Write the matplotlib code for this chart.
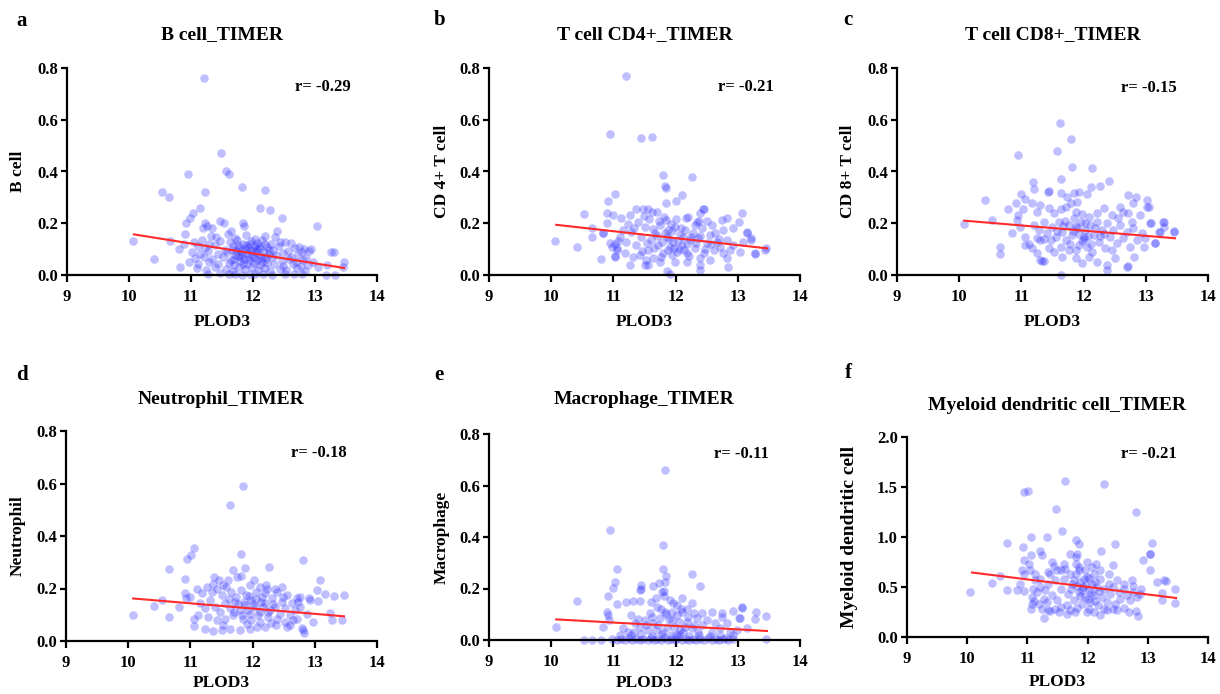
import numpy as np
import matplotlib

matplotlib.use("Agg")
import matplotlib.pyplot as plt

# ---- data (x = PLOD3 expression, y = infiltration score) ----
B_CELL = [
    (11.21, 0.76), (11.49, 0.47), (11.57, 0.40), (11.62, 0.39), (10.95, 0.39), (10.53, 0.32), (10.65, 0.30),
    (11.23, 0.32), (11.83, 0.34), (12.20, 0.33), (12.11, 0.26), (12.27, 0.25), (11.15, 0.26), (11.04, 0.24),
    (10.99, 0.22), (10.92, 0.20), (12.47, 0.22), (13.04, 0.19), (11.22, 0.20), (11.46, 0.21), (11.53, 0.20),
    (11.84, 0.20), (11.86, 0.19), (11.34, 0.18), (11.26, 0.19), (11.19, 0.18), (11.65, 0.17), (12.38, 0.17),
    (10.07, 0.13), (10.41, 0.06), (10.66, 0.13), (10.83, 0.03), (10.81, 0.10), (10.91, 0.16), (10.88, 0.12),
    (13.47, 0.05), (13.45, 0.03), (13.26, 0.09), (13.31, 0.09), (12.93, 0.10), (13.17, 0.00), (13.32, 0.00),
    (13.20, 0.04), (13.05, 0.03),
    (11.32, 0.152), (11.41, 0.147), (11.60, 0.158), (11.71, 0.143), (11.89, 0.155), (12.04, 0.139), (12.19, 0.151),
    (12.36, 0.146), (12.52, 0.128), (11.05, 0.128), (11.17, 0.134), (11.29, 0.121), (11.47, 0.131), (11.63, 0.126),
    (11.74, 0.136), (11.84, 0.119), (11.96, 0.131), (12.07, 0.124), (12.15, 0.137), (12.29, 0.118), (12.44, 0.129),
    (12.61, 0.122), (12.74, 0.108), (12.83, 0.101), (11.11, 0.112), (11.22, 0.104), (11.38, 0.115), (11.55, 0.098),
    (11.68, 0.111), (11.78, 0.103), (11.88, 0.117), (11.97, 0.096), (12.03, 0.113), (12.12, 0.104), (12.23, 0.109),
    (12.33, 0.097), (12.42, 0.112), (12.56, 0.094), (12.67, 0.103), (12.79, 0.088), (12.91, 0.092), (11.01, 0.088),
    (11.14, 0.083), (11.27, 0.094), (11.44, 0.081), (11.58, 0.089), (11.71, 0.078), (11.81, 0.092), (11.91, 0.084),
    (12.00, 0.094), (12.09, 0.079), (12.17, 0.088), (12.26, 0.083), (12.37, 0.076), (12.49, 0.086), (12.62, 0.071),
    (12.72, 0.079), (12.86, 0.066), (11.06, 0.064), (11.21, 0.071), (11.34, 0.062), (11.51, 0.068), (11.64, 0.058),
    (11.76, 0.072), (11.86, 0.061), (11.94, 0.069), (12.06, 0.057), (12.13, 0.066), (12.21, 0.061), (12.31, 0.068),
    (12.46, 0.054), (12.58, 0.063), (12.69, 0.052), (12.81, 0.058), (12.96, 0.049), (10.96, 0.052), (11.12, 0.044),
    (11.29, 0.051), (11.43, 0.042), (11.61, 0.047), (11.69, 0.039), (11.79, 0.053), (11.90, 0.044), (12.01, 0.048),
    (12.11, 0.038), (12.23, 0.046), (12.34, 0.041), (12.48, 0.036), (12.64, 0.043), (12.77, 0.034), (12.89, 0.039),
    (11.09, 0.027), (11.24, 0.021), (11.39, 0.031), (11.56, 0.024), (11.67, 0.017), (11.77, 0.029), (11.87, 0.022),
    (11.99, 0.031), (12.08, 0.019), (12.19, 0.027), (12.27, 0.014), (12.43, 0.024), (12.54, 0.018), (12.71, 0.026),
    (12.84, 0.015), (11.28, 0.003), (11.47, 0.006), (11.62, 0.002), (11.71, 0.004), (11.83, 0.001), (11.95, 0.005),
    (12.04, 0.002), (12.16, 0.004), (12.31, 0.001), (12.51, 0.003), (12.66, 0.002), (12.79, 0.004),
    (11.66, 0.098), (11.73, 0.091), (11.83, 0.083), (11.92, 0.107), (11.98, 0.076), (12.05, 0.087), (12.10, 0.113),
    (12.18, 0.071), (12.25, 0.096), (11.80, 0.068), (11.93, 0.058), (12.02, 0.066), (12.14, 0.052), (11.87, 0.102),
    (11.76, 0.115), (12.20, 0.121), (11.95, 0.121), (12.07, 0.101), (11.70, 0.063), (11.84, 0.044),
]

CD4_T = [
    (11.21, 0.770), (10.95, 0.546), (11.45, 0.529), (11.62, 0.534), (11.79, 0.387), (12.27, 0.380), (11.83, 0.344),
    (11.84, 0.338), (11.02, 0.313), (12.10, 0.308), (12.00, 0.286), (10.92, 0.285), (11.85, 0.277), (10.53, 0.235),
    (13.07, 0.239), (12.46, 0.256), (10.06, 0.131), (10.41, 0.110), (10.65, 0.181), (10.65, 0.148), (10.80, 0.063),
    (13.46, 0.104), (13.44, 0.095), (13.28, 0.082), (13.22, 0.143), (13.15, 0.166), (13.02, 0.203), (12.92, 0.181),
    (12.85, 0.031), (12.40, 0.040), (12.40, 0.018), (11.86, 0.014), (11.91, 0.004), (11.27, 0.037), (11.51, 0.037),
    (11.56, 0.037), (11.02, 0.068), (11.06, 0.104), (10.97, 0.110), (10.84, 0.162),
    (10.89, 0.238), (11.37, 0.254), (11.48, 0.254), (11.55, 0.254), (11.70, 0.245), (11.27, 0.232), (11.13, 0.219),
    (11.00, 0.232), (10.90, 0.200), (12.44, 0.254), (12.39, 0.238), (12.20, 0.225), (12.34, 0.206), (12.50, 0.210),
    (12.58, 0.193), (12.74, 0.213), (12.82, 0.219), (12.77, 0.174), (10.83, 0.161), (11.03, 0.073), (11.05, 0.097),
    (10.94, 0.122), (11.11, 0.148), (11.21, 0.129), (11.29, 0.167), (11.37, 0.116), (11.45, 0.148), (11.51, 0.187),
    (11.56, 0.097), (11.61, 0.135), (11.67, 0.161), (11.72, 0.116), (11.75, 0.193), (11.80, 0.084), (11.86, 0.148),
    (11.88, 0.174), (11.91, 0.110), (11.96, 0.129), (11.99, 0.187), (12.02, 0.090), (12.07, 0.155), (12.10, 0.116),
    (12.15, 0.174), (12.18, 0.084), (12.23, 0.135), (12.28, 0.161), (12.31, 0.103), (12.36, 0.142), (12.42, 0.180),
    (12.45, 0.084), (12.50, 0.122), (12.55, 0.155), (12.61, 0.097), (12.66, 0.129), (12.71, 0.110), (12.77, 0.084),
    (12.82, 0.135), (12.87, 0.097), (12.93, 0.116), (11.19, 0.084), (11.32, 0.071), (11.43, 0.077), (11.53, 0.058),
    (11.64, 0.064), (11.75, 0.051), (11.99, 0.051), (12.18, 0.051), (12.39, 0.064), (12.55, 0.058), (12.82, 0.064),
    (13.03, 0.090), (13.14, 0.161), (13.22, 0.135), (13.28, 0.084), (13.09, 0.129),
    (11.64, 0.178), (11.70, 0.152), (11.78, 0.128), (11.83, 0.163), (11.90, 0.141), (11.94, 0.171), (11.98, 0.105),
    (12.04, 0.133), (12.08, 0.182), (12.12, 0.146), (12.19, 0.121), (12.25, 0.148), (11.73, 0.207), (11.81, 0.224),
    (11.92, 0.196), (12.01, 0.215), (11.58, 0.216), (11.49, 0.229), (11.40, 0.204), (11.33, 0.183), (11.24, 0.196),
    (11.16, 0.174), (11.08, 0.131), (11.02, 0.118), (12.33, 0.122), (12.40, 0.151), (12.48, 0.101), (12.57, 0.118),
    (12.64, 0.162), (12.70, 0.141), (11.87, 0.095), (11.95, 0.079), (12.05, 0.101), (12.14, 0.098), (11.66, 0.106),
    (11.54, 0.124), (11.46, 0.091), (12.22, 0.072), (11.76, 0.071), (12.31, 0.193), (12.37, 0.207), (12.17, 0.219),
    (11.62, 0.245), (11.85, 0.212),
]

CD8_T = [
    (11.62, 0.589), (11.80, 0.524), (11.57, 0.478), (10.95, 0.464), (11.82, 0.417), (12.13, 0.412), (11.63, 0.370),
    (12.41, 0.363), (11.18, 0.358), (12.27, 0.344), (12.12, 0.339), (11.93, 0.320), (11.63, 0.316), (10.42, 0.290),
    (11.00, 0.313), (12.71, 0.309), (12.85, 0.300), (13.02, 0.289), (11.05, 0.293), (11.43, 0.322), (10.79, 0.256),
    (10.53, 0.212), (10.07, 0.196), (10.65, 0.108), (10.66, 0.082), (11.64, 0.001), (12.38, 0.020), (12.71, 0.033),
    (13.45, 0.171), (13.28, 0.203), (13.30, 0.187), (13.22, 0.168), (13.14, 0.123), (13.07, 0.200), (13.02, 0.262),
    (10.92, 0.277), (11.20, 0.331), (10.94, 0.232), (11.03, 0.254), (10.93, 0.212), (10.85, 0.163), (10.97, 0.184),
    (11.06, 0.148), (11.12, 0.118), (11.06, 0.116), (11.17, 0.103), (11.25, 0.084), (11.30, 0.058), (11.36, 0.055),
    (11.44, 0.326), (11.73, 0.303), (11.84, 0.316), (12.05, 0.312), (12.80, 0.279), (13.05, 0.261), (12.59, 0.264),
    (12.72, 0.241), (11.17, 0.277), (11.30, 0.271), (11.44, 0.258), (11.25, 0.245), (11.52, 0.238), (11.63, 0.254),
    (11.71, 0.261), (11.79, 0.277), (11.89, 0.283), (11.87, 0.245), (11.97, 0.236), (12.08, 0.225), (12.21, 0.238),
    (12.32, 0.258), (12.46, 0.232), (12.56, 0.219), (12.64, 0.245), (12.78, 0.206), (12.91, 0.232), (13.08, 0.202),
    (13.23, 0.167), (13.29, 0.206), (13.46, 0.167), (13.15, 0.122), (12.97, 0.109), (12.81, 0.071), (12.70, 0.032),
    (12.51, 0.064), (12.38, 0.039), (12.21, 0.051), (12.08, 0.071), (11.97, 0.045), (11.87, 0.064), (11.65, 0.068),
    (11.52, 0.090), (11.33, 0.054), (11.44, 0.103), (11.36, 0.138), (11.30, 0.135),
    (11.20, 0.193), (11.28, 0.174), (11.36, 0.206), (11.41, 0.161), (11.49, 0.187), (11.55, 0.148), (11.60, 0.206),
    (11.65, 0.167), (11.71, 0.135), (11.76, 0.193), (11.81, 0.155), (11.84, 0.219), (11.89, 0.180), (11.92, 0.116),
    (11.96, 0.206), (12.00, 0.146), (12.03, 0.174), (12.05, 0.109), (12.11, 0.193), (12.16, 0.155), (12.22, 0.206),
    (12.24, 0.129), (12.30, 0.174), (12.35, 0.103), (12.38, 0.200), (12.43, 0.148), (12.48, 0.174), (12.54, 0.122),
    (12.59, 0.193), (12.64, 0.142), (12.70, 0.167), (12.75, 0.109), (12.80, 0.180), (12.86, 0.135), (12.94, 0.161),
    (12.99, 0.142), (11.76, 0.097), (11.63, 0.109), (11.47, 0.135), (11.25, 0.142), (12.13, 0.090), (12.46, 0.097),
    (11.87, 0.097), (11.92, 0.160), (12.02, 0.200), (11.70, 0.210), (11.97, 0.130), (12.07, 0.150), (11.83, 0.170),
    (12.18, 0.180), (11.58, 0.170), (11.78, 0.120), (12.26, 0.150), (12.01, 0.140), (11.87, 0.190), (12.12, 0.120),
    (11.67, 0.190), (12.33, 0.160),
]

NEUTROPHIL = [
    (11.84, 0.592), (11.63, 0.517), (11.06, 0.356), (11.01, 0.327), (10.95, 0.314), (11.81, 0.333), (12.81, 0.308),
    (10.65, 0.276), (11.69, 0.270), (11.88, 0.280), (12.27, 0.281), (10.92, 0.238), (11.75, 0.242), (11.82, 0.247),
    (12.02, 0.232), (13.09, 0.232), (13.03, 0.196), (13.16, 0.178), (13.31, 0.170), (13.47, 0.177), (13.05, 0.151),
    (12.92, 0.155), (13.24, 0.107), (13.28, 0.079), (13.44, 0.081), (10.07, 0.100), (10.42, 0.132), (10.54, 0.155),
    (10.66, 0.093), (10.81, 0.130), (12.82, 0.031), (12.80, 0.050), (12.81, 0.042), (10.93, 0.164),
    (11.38, 0.242), (11.46, 0.232), (10.91, 0.181), (10.99, 0.168), (11.06, 0.056), (11.06, 0.085), (11.23, 0.047),
    (11.37, 0.037), (11.50, 0.041), (11.64, 0.047), (11.79, 0.041), (11.96, 0.047), (12.07, 0.054), (12.20, 0.054),
    (12.38, 0.060), (12.55, 0.054), (12.71, 0.085), (12.87, 0.104), (12.97, 0.073), (12.77, 0.168), (12.73, 0.149),
    (12.90, 0.162),
    (11.10, 0.200), (11.18, 0.181), (11.26, 0.206), (11.34, 0.187), (11.42, 0.200), (11.50, 0.174), (11.58, 0.206),
    (11.66, 0.187), (11.74, 0.168), (11.82, 0.193), (11.90, 0.174), (11.98, 0.155), (12.06, 0.187), (12.15, 0.168),
    (12.23, 0.200), (12.31, 0.162), (12.39, 0.187), (12.47, 0.149), (12.55, 0.174), (12.63, 0.143), (12.71, 0.162),
    (11.15, 0.143), (11.23, 0.124), (11.31, 0.155), (11.40, 0.130), (11.48, 0.111), (11.56, 0.143), (11.64, 0.124),
    (11.72, 0.149), (11.80, 0.117), (11.88, 0.136), (11.96, 0.104), (12.04, 0.130), (12.12, 0.111), (12.20, 0.143),
    (12.28, 0.117), (12.36, 0.130), (12.44, 0.104), (12.52, 0.124), (12.60, 0.098), (12.68, 0.117), (12.76, 0.130),
    (11.13, 0.098), (11.29, 0.092), (11.42, 0.079), (11.56, 0.085), (11.69, 0.098), (11.85, 0.085), (11.98, 0.079),
    (12.12, 0.073), (12.25, 0.092), (12.39, 0.085), (12.52, 0.073), (12.65, 0.079), (11.37, 0.219), (11.53, 0.213),
    (11.61, 0.232), (11.96, 0.213), (12.12, 0.206), (12.21, 0.213), (12.36, 0.200), (12.20, 0.181), (12.47, 0.206),
    (12.49, 0.168), (11.86, 0.150), (11.93, 0.120), (12.01, 0.140), (12.09, 0.100), (11.77, 0.140), (12.17, 0.130),
    (11.70, 0.110), (12.24, 0.110), (11.95, 0.170), (12.05, 0.160), (11.62, 0.160), (12.33, 0.140), (11.83, 0.100),
    (12.13, 0.150), (11.91, 0.065), (12.29, 0.068), (11.52, 0.062), (12.60, 0.061),
]

MACROPHAGE = [
    (11.83, 0.662), (10.95, 0.429), (11.80, 0.368), (11.06, 0.274), (11.79, 0.274), (12.27, 0.257), (11.03, 0.224),
    (11.00, 0.203), (11.83, 0.226), (11.84, 0.248), (12.40, 0.209), (11.44, 0.213), (11.42, 0.194), (11.74, 0.220),
    (11.81, 0.191), (10.41, 0.151), (10.91, 0.171), (10.07, 0.049), (10.53, 0.000), (10.65, 0.000), (10.80, 0.000),
    (13.45, 0.003), (13.46, 0.094), (13.30, 0.110), (13.28, 0.080), (13.07, 0.125), (12.92, 0.114), (13.02, 0.084),
    (10.83, 0.052), (10.89, 0.110), (10.92, 0.097), (10.93, 0.078), (11.05, 0.138), (11.20, 0.149), (11.32, 0.152),
    (11.43, 0.152), (11.45, 0.200), (11.63, 0.211), (11.78, 0.187), (11.69, 0.165), (11.60, 0.146), (11.70, 0.127),
    (11.81, 0.172), (11.91, 0.155), (11.96, 0.142), (12.02, 0.136), (12.10, 0.165), (12.18, 0.119), (12.27, 0.142),
    (12.30, 0.106), (12.58, 0.110), (12.74, 0.103), (12.74, 0.090), (13.06, 0.127), (13.03, 0.084), (13.15, 0.045),
    (12.98, 0.039), (12.93, 0.019), (12.81, 0.006), (11.29, 0.097), (11.16, 0.045), (11.24, 0.032), (11.43, 0.052),
    (11.51, 0.078), (11.56, 0.039), (11.64, 0.065), (11.75, 0.084), (11.86, 0.052), (11.94, 0.078), (12.02, 0.097),
    (12.07, 0.039), (12.18, 0.071), (12.26, 0.045), (12.34, 0.084), (12.42, 0.058), (12.50, 0.078), (12.58, 0.032),
    (12.63, 0.065), (12.71, 0.045), (12.82, 0.065), (12.87, 0.032), (11.35, 0.065), (11.59, 0.103), (11.83, 0.110),
    (12.10, 0.110), (12.42, 0.103),
    (10.98, 0.002), (11.05, 0.000), (11.12, 0.004), (11.18, 0.000), (11.25, 0.006), (11.30, 0.000), (11.37, 0.003),
    (11.42, 0.000), (11.48, 0.005), (11.55, 0.000), (11.60, 0.008), (11.66, 0.000), (11.70, 0.004), (11.76, 0.000),
    (11.82, 0.006), (11.88, 0.000), (11.93, 0.003), (11.99, 0.000), (12.04, 0.007), (12.10, 0.000), (12.16, 0.004),
    (12.21, 0.000), (12.28, 0.005), (12.33, 0.000), (12.40, 0.003), (12.46, 0.000), (12.52, 0.006), (12.58, 0.000),
    (12.65, 0.004), (12.70, 0.000), (12.77, 0.003), (12.85, 0.000), (12.92, 0.002),
    (11.10, 0.021), (11.28, 0.018), (11.45, 0.024), (11.62, 0.017), (11.78, 0.022), (11.92, 0.019), (12.06, 0.023),
    (12.22, 0.016), (12.38, 0.020), (12.55, 0.017), (12.72, 0.021),
    (11.62, 0.090), (11.72, 0.060), (11.80, 0.030), (11.89, 0.080), (11.97, 0.050), (12.05, 0.070), (12.12, 0.030),
    (12.20, 0.090), (12.29, 0.060), (11.53, 0.060), (11.68, 0.040), (11.84, 0.100), (12.01, 0.020), (12.15, 0.050),
    (12.36, 0.030), (11.95, 0.110), (11.76, 0.120), (12.08, 0.120), (11.40, 0.080), (11.33, 0.030),
]

MYELOID_DC = [
    (11.62, 1.557), (12.27, 1.533), (11.01, 1.460), (10.94, 1.450), (11.47, 1.280), (12.81, 1.247), (11.57, 1.060),
    (11.06, 1.003), (11.32, 1.000), (10.66, 0.943), (13.07, 0.943), (12.46, 0.933), (11.81, 0.973), (10.92, 0.900),
    (12.22, 0.860), (13.03, 0.833), (11.85, 0.927), (12.92, 0.767), (13.04, 0.667), (10.05, 0.450), (10.42, 0.543),
    (10.55, 0.607), (10.66, 0.473), (10.82, 0.473), (13.46, 0.483), (13.45, 0.343), (13.27, 0.567), (13.31, 0.560),
    (13.15, 0.550), (13.23, 0.443), (13.23, 0.367), (11.27, 0.190),
    (10.94, 0.457), (11.83, 0.834), (11.06, 0.817), (11.21, 0.860), (11.24, 0.817), (10.94, 0.767), (11.02, 0.734),
    (10.91, 0.667), (10.94, 0.634), (10.88, 0.534), (11.04, 0.667), (11.13, 0.567), (11.21, 0.500), (11.09, 0.484),
    (11.08, 0.400), (11.11, 0.360), (11.06, 0.277), (11.24, 0.284), (11.35, 0.267), (11.46, 0.284), (11.41, 0.750),
    (11.45, 0.710), (11.60, 0.734), (11.63, 0.684), (11.70, 0.834), (11.49, 0.667), (11.34, 0.650), (11.80, 0.734),
    (11.85, 0.700), (11.96, 0.667), (12.02, 0.594), (12.10, 0.634), (12.14, 0.734), (12.42, 0.717), (12.35, 0.634),
    (12.49, 0.567), (12.60, 0.534), (12.74, 0.567), (12.75, 0.507), (12.88, 0.484), (13.04, 0.834), (12.84, 0.207),
    (12.81, 0.260), (12.49, 0.267), (12.21, 0.217), (11.99, 0.250), (11.71, 0.267), (11.66, 0.234), (11.52, 0.250),
    (11.38, 0.260), (11.82, 0.294), (12.10, 0.250), (12.32, 0.267), (12.60, 0.294), (12.68, 0.250), (11.08, 0.334),
    (11.13, 0.634), (11.21, 0.584), (11.30, 0.467), (11.35, 0.534), (11.41, 0.417), (11.46, 0.567), (11.49, 0.367),
    (11.55, 0.484), (11.60, 0.584), (11.65, 0.317), (11.68, 0.434), (11.74, 0.534), (11.77, 0.367), (11.81, 0.634),
    (11.85, 0.450), (11.88, 0.550), (11.91, 0.334), (11.93, 0.500), (11.96, 0.400), (11.99, 0.600), (12.02, 0.467),
    (12.04, 0.350), (12.07, 0.534), (12.10, 0.417), (12.16, 0.500), (12.18, 0.317), (12.21, 0.584), (12.24, 0.400),
    (12.27, 0.484), (12.32, 0.350), (12.35, 0.534), (12.38, 0.434), (12.43, 0.500), (12.46, 0.334), (12.52, 0.450),
    (12.54, 0.384), (12.60, 0.484), (12.65, 0.417), (12.71, 0.367), (12.76, 0.450), (12.82, 0.400), (12.87, 0.434),
    (11.27, 0.384), (11.19, 0.334), (11.32, 0.350), (11.55, 0.300), (11.79, 0.250), (12.02, 0.284), (12.27, 0.284),
    (12.43, 0.284), (11.16, 0.450), (11.38, 0.634), (11.55, 0.667), (11.71, 0.634), (11.85, 0.667), (12.07, 0.700),
    (12.21, 0.667), (11.99, 0.750), (11.80, 0.800), (11.90, 0.470), (11.97, 0.520), (12.05, 0.440), (11.83, 0.510),
    (12.12, 0.550), (11.72, 0.480), (12.00, 0.380), (11.87, 0.410), (12.19, 0.460), (11.94, 0.580), (11.78, 0.570),
    (12.13, 0.360),
]

PANEL_SERIES = [B_CELL, CD4_T, CD8_T, NEUTROPHIL, MACROPHAGE, MYELOID_DC]
PANEL_LETTERS = ["a", "b", "c", "d", "e", "f"]
PANEL_TITLES = ["B cell_TIMER", "T cell CD4+_TIMER", "T cell CD8+_TIMER",
                "Neutrophil_TIMER", "Macrophage_TIMER", "Myeloid dendritic cell_TIMER"]
Y_LABELS = ["B cell", "CD 4+ T cell", "CD 8+ T cell", "Neutrophil", "Macrophage", "Myeloid dendritic cell"]
R_LABELS = ["r= -0.29", "r= -0.21", "r= -0.15", "r= -0.18", "r= -0.11", "r= -0.21"]
FIT_X = [10.08, 13.47]
FIT_Y = [(0.157, 0.027), (0.194, 0.103), (0.210, 0.142), (0.162, 0.094), (0.080, 0.035), (0.645, 0.390)]
Y_MAX = [0.8, 0.8, 0.8, 0.8, 0.8, 2.0]
Y_STEP = [0.2, 0.2, 0.2, 0.2, 0.2, 0.5]
X_TICKS = [9, 10, 11, 12, 13, 14]

# ---- layout in reference pixels (figure is 1220 x 694) ----
W, H = 1220, 694
AX_PX = [(67, 68, 377, 275), (489, 68, 800, 275), (897, 68, 1208, 275),
         (66, 431, 377, 641), (489, 434, 800, 640), (907, 437, 1208, 637)]
LETTER_PX = [(22, 21), (440, 20), (848, 20), (22, 375), (439, 375), (848, 373)]
TITLE_Y_PX = [35, 35, 35, 400, 400, 405]
R_PX = [(295, 87), (718, 87), (1121, 88), (291, 453), (714, 454), (1121, 454)]
XLABEL_Y_PX = [322, 322, 322, 683, 683, 682]
YLABEL_X_PX = [18, 442, 848, 18, 442, 850]
YLABEL_SIZE = [12.5, 12.5, 12.5, 12.5, 12.5, 14]

DOT_COLOR = "#2b2bff"
LINE_COLOR = "#ff2a2a"

plt.rcParams.update({
    "font.family": ["Liberation Serif", "DejaVu Serif"],
    "font.weight": "bold",
    "axes.linewidth": 1.6,
    "xtick.major.width": 1.6,
    "ytick.major.width": 1.6,
    "xtick.major.size": 5,
    "ytick.major.size": 4.5,
    "xtick.labelsize": 12,
    "ytick.labelsize": 12,
})


def fx(px):
    return px / W


def fy(py):
    return 1 - py / H


fig = plt.figure(figsize=(12.2, 6.94), dpi=100)
fig.patch.set_facecolor("white")

for i, pts in enumerate(PANEL_SERIES):
    left, top, right, bottom = AX_PX[i]
    ax = fig.add_axes([fx(left), fy(bottom), (right - left) / W, (bottom - top) / H])
    data = np.array(pts)
    ax.scatter(data[:, 0], data[:, 1], s=38, color=DOT_COLOR, alpha=0.3,
               linewidths=0, clip_on=False, zorder=2)
    ax.plot(FIT_X, FIT_Y[i], color=LINE_COLOR, linewidth=1.5, zorder=3, clip_on=False)

    ax.set_xlim(9, 14)
    ax.set_ylim(0, Y_MAX[i])
    ax.set_xticks(X_TICKS)
    yt = np.arange(0, Y_MAX[i] + 1e-9, Y_STEP[i])
    ax.set_yticks(yt)
    ax.set_yticklabels([f"{v:.1f}" for v in yt])
    ax.spines["top"].set_visible(False)
    ax.spines["right"].set_visible(False)
    ax.tick_params(axis="x", pad=5)
    ax.tick_params(axis="y", pad=2)
    for lab in ax.get_xticklabels() + ax.get_yticklabels():
        lab.set_fontweight("bold")

    cx = (left + right) / 2
    ax.set_xlabel("PLOD3", fontsize=12.5, fontweight="bold", va="center")
    ax.xaxis.set_label_coords(fx(cx), fy(XLABEL_Y_PX[i]), transform=fig.transFigure)
    ax.set_ylabel(Y_LABELS[i], fontsize=YLABEL_SIZE[i], fontweight="bold", va="center")
    ax.yaxis.set_label_coords(fx(YLABEL_X_PX[i]), fy((top + bottom) / 2), transform=fig.transFigure)

    fig.text(fx(cx), fy(TITLE_Y_PX[i]), PANEL_TITLES[i], ha="center", va="center",
             fontsize=14, fontweight="bold")
    fig.text(fx(R_PX[i][0]), fy(R_PX[i][1]), R_LABELS[i], ha="left", va="center",
             fontsize=12, fontweight="bold")
    fig.text(fx(LETTER_PX[i][0]), fy(LETTER_PX[i][1]), PANEL_LETTERS[i], ha="center", va="center",
             fontsize=15, fontweight="bold")

fig.savefig("out.png", dpi=100, facecolor="white")
plt.close(fig)
